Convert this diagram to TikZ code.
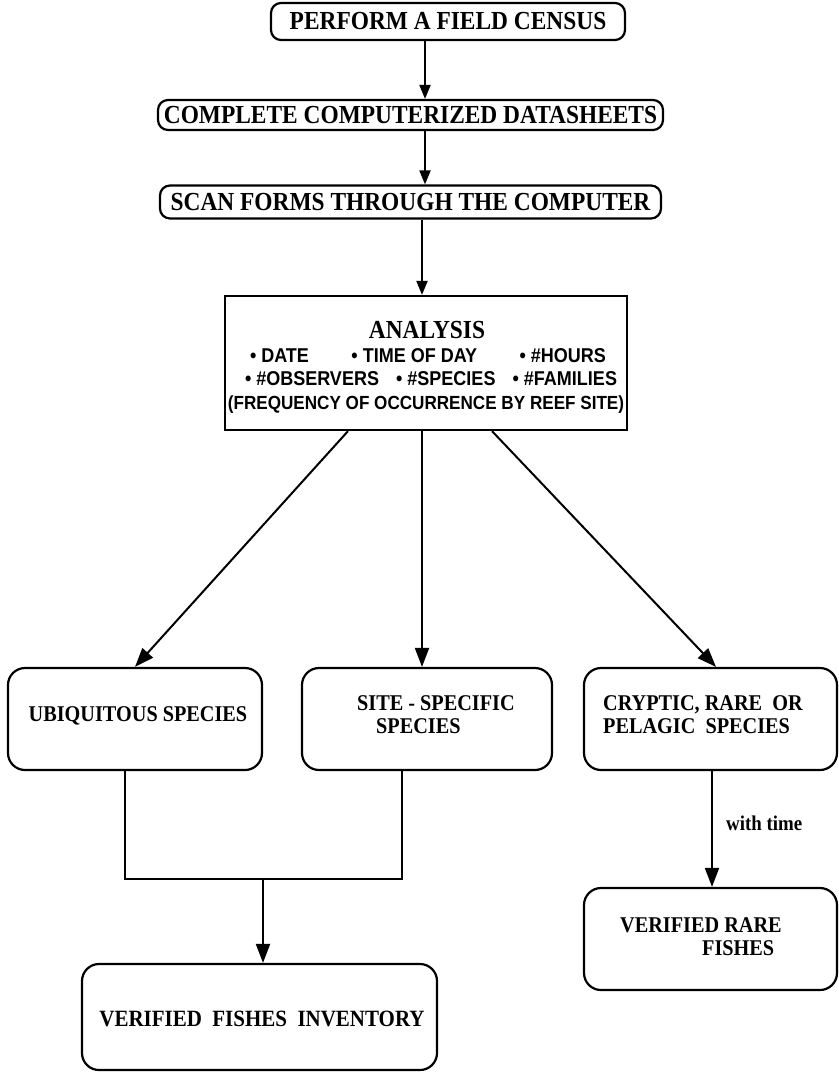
\documentclass[tikz,border=0pt]{standalone}
\usepackage{fontspec}
\setmainfont{Liberation Serif}[FakeStretch=0.9]
\newfontfamily\ansans{Liberation Sans}[FakeStretch=0.9]
\usetikzlibrary{arrows.meta}
\begin{document}
\begin{tikzpicture}[x=1pt,y=-1pt,
  topbox/.style={draw, line width=2.2pt, rounded corners=10pt, inner sep=0pt,
    font=\bfseries\fontsize{26}{28}\selectfont},
  anbox/.style={draw, line width=2.2pt, inner sep=0pt},
  lowbox/.style={draw, line width=2.2pt, rounded corners=17pt, inner sep=0pt,
    minimum width=252pt, minimum height=102pt},
  lowtxt/.style={font=\bfseries\fontsize{22.5}{23}\selectfont, inner sep=0pt, align=left},
  antxt/.style={font=\ansans\bfseries\fontsize{20}{22}\selectfont, inner sep=0pt},
  conn/.style={line width=2pt},
  arr/.style={line width=2pt, -{Triangle[length=14pt,width=11pt]}},
  bigarr/.style={line width=2pt, -{Triangle[length=19pt,width=14pt]}}
]
\useasboundingbox (0,0) rectangle (838,1073);
\fill[white] (0,0) rectangle (838,1073);

% top boxes
\node[topbox, minimum width=354pt, minimum height=37pt] (b1) at (448,21.5) {PERFORM A FIELD CENSUS};
\node[topbox, minimum width=505pt, minimum height=30pt] (b2) at (410.5,115) {COMPLETE COMPUTERIZED DATASHEETS};
\node[topbox, minimum width=501pt, minimum height=33pt] (b3) at (410.5,202) {SCAN FORMS THROUGH THE COMPUTER};

% analysis box
\node[anbox, minimum width=402pt, minimum height=134pt] (ana) at (426,363) {};
\node[font=\bfseries\fontsize{26}{28}\selectfont, inner sep=0pt] (antitle) at (427,330) {ANALYSIS};
\node[antxt] (anl1) at (428,356) {\makebox[356pt][s]{• DATE\hfill • TIME OF DAY\hfill • \#HOURS}};
\node[antxt] (anl2) at (431,379) {\makebox[372pt][s]{• \#OBSERVERS\hfill • \#SPECIES\hfill • \#FAMILIES}};
\node[antxt, font=\ansans\bfseries\fontsize{19}{21}\selectfont] (anl3) at (426,405) {(FREQUENCY OF OCCURRENCE BY REEF SITE)};

% lower boxes
\node[lowbox, minimum width=254pt] (ubi) at (135,719) {};
\node[lowtxt] (ubit) at (138,716) {UBIQUITOUS SPECIES};
\node[lowbox, minimum width=250pt] (site) at (427,719) {};
\node[lowtxt, anchor=west] (sitet) at (357,714.5) {SITE - SPECIFIC\\\hspace*{19pt}SPECIES};
\node[lowbox, minimum width=253pt] (cry) at (710.5,719) {};
\node[lowtxt, anchor=west] (cryt) at (603,714.5) {CRYPTIC, RARE\ \ OR\\PELAGIC\ \ SPECIES};

\node[lowbox, minimum width=253pt, minimum height=102pt] (rare) at (710.5,939) {};
\node[lowtxt, anchor=west] (raret) at (620,937) {VERIFIED RARE\\\hspace*{82pt}FISHES};

\node[lowbox, minimum width=355pt, minimum height=106pt] (inv) at (259.5,1017) {};
\node[lowtxt, font=\bfseries\fontsize{23.3}{25}\selectfont] (invt) at (262,1019) {VERIFIED\ \ FISHES\ \ INVENTORY};

% connectors
\coordinate (xa) at (425,0);
\coordinate (xb) at (422,0);
\draw[arr] (b1.south -| xa) -- (b2.north -| xa);
\draw[arr] (b2.south -| xa) -- (b3.north -| xa);
\draw[arr] (b3.south -| xb) -- (ana.north -| xb);

\coordinate (aL) at (348,0);
\coordinate (aR) at (492,0);
\coordinate (tL) at (135,0);
\coordinate (tR) at (716,0);
\draw[bigarr] (ana.south -| aL) -- (ubi.north -| tL);
\draw[bigarr] (ana.south -| xb) -- (site.north -| xb);
\draw[bigarr] (ana.south -| aR) -- (cry.north -| tR);

\coordinate (jL) at (125,879);
\coordinate (jR) at (402,879);
\coordinate (jM) at (263,879);
\draw[conn] (ubi.south -| jL) -- (jL) -- (jR) -- (site.south -| jR);
\draw[bigarr] (jM) -- (inv.north -| jM);

\coordinate (xr) at (712,0);
\draw[bigarr] (cry.south -| xr) -- (rare.north -| xr);
\node[font=\bfseries\fontsize{21}{23}\selectfont, anchor=west, inner sep=0pt] (wt) at (726,823) {with time};
\end{tikzpicture}
\end{document}
